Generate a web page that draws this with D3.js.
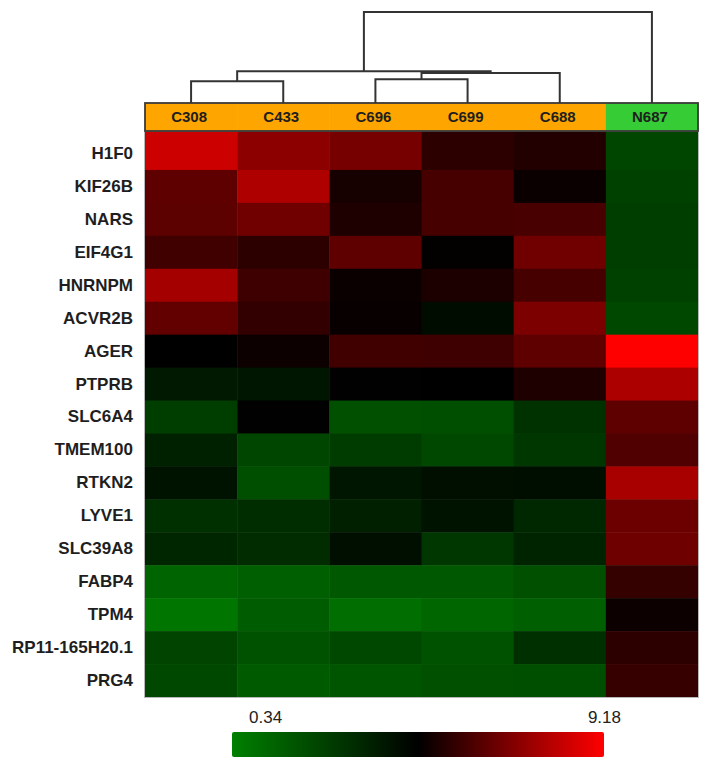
<!DOCTYPE html>
<html>
<head>
<meta charset="utf-8">
<script src="https://cdn.jsdelivr.net/npm/d3@7"></script>
<style>
  html, body { margin: 0; padding: 0; background: #fff; }
  svg { display: block; }
  text { font-family: "Liberation Sans", Arial, sans-serif; }
</style>
</head>
<body>
<div id="chart"></div>
<script>
// ---------------- data ----------------
const samples = ["C308", "C433", "C696", "C699", "C688", "N687"];
const sampleGroups = ["C", "C", "C", "C", "C", "N"];
const genes = ["H1F0", "KIF26B", "NARS", "EIF4G1", "HNRNPM", "ACVR2B", "AGER", "PTPRB",
  "SLC6A4", "TMEM100", "RTKN2", "LYVE1", "SLC39A8", "FABP4", "TPM4", "RP11-165H20.1", "PRG4"];

// expression values per sample (one value per gene, same order as genes)
const valuesC308 = [8.31, 6.41, 6.35, 5.89, 7.62, 6.45, 4.78, 3.90, 2.62, 3.62, 4.14, 3.10, 3.45, 1.31, 0.72, 2.41, 2.27];
const valuesC433 = [7.19, 7.79, 6.70, 5.54, 5.83, 5.63, 4.97, 4.00, 4.74, 2.34, 2.07, 3.21, 3.25, 1.48, 1.58, 1.93, 1.65];
const valuesC696 = [6.80, 5.14, 5.28, 6.41, 4.93, 4.90, 5.89, 4.74, 2.00, 2.69, 4.00, 3.66, 4.24, 1.72, 0.96, 2.27, 1.83];
const valuesC699 = [5.54, 5.97, 5.97, 4.81, 5.25, 4.35, 5.83, 4.76, 2.07, 2.27, 4.24, 4.14, 2.86, 1.72, 1.24, 1.93, 2.00];
const valuesC688 = [5.37, 4.93, 6.01, 6.70, 5.97, 6.93, 6.41, 5.28, 3.03, 2.86, 4.28, 3.38, 3.55, 2.00, 1.48, 3.10, 2.07];
const valuesN687 = [2.34, 2.52, 2.62, 2.62, 2.52, 2.27, 9.18, 7.74, 6.41, 6.15, 7.67, 6.63, 6.67, 5.66, 4.97, 5.54, 5.71];

// hierarchical clustering of samples: [left, right, merge distance]
const linkage = [
  ["C308", "C433", 0.24],
  ["C696", "C699", 0.26],
  ["L1", "C688", 0.33],
  ["L0", "L2", 0.35],
  ["L3", "N687", 1.0]
];

const legendMin = 0.34;
const legendMax = 9.18;
const legendLabels = ["0.34", "9.18"];

// ---------------- layout ----------------
const W = 711, H = 769;
const heat = { left: 145, right: 698, top: 137, bottom: 697 };
const header = { top: 103, bottom: 131 };
const dendroTop = 12;
const cbar = { left: 232, right: 604, top: 732, bottom: 757 };

const svg = d3.select("#chart").append("svg")
  .attr("width", W).attr("height", H);

const x = d3.scaleBand().domain(samples).range([heat.left, heat.right]).padding(0);
const y = d3.scaleBand().domain(genes).range([heat.top, heat.bottom]).padding(0);
const mid = (legendMin + legendMax) / 2;
const color = d3.scaleLinear()
  .domain([legendMin, mid, legendMax])
  .range(["#008000", "#000000", "#ff0000"])
  .interpolate(d3.interpolateRgb)
  .clamp(true);

const seriesBySample = {
  C308: valuesC308, C433: valuesC433, C696: valuesC696,
  C699: valuesC699, C688: valuesC688, N687: valuesN687
};
const cells = [];
samples.forEach(s => {
  genes.forEach((g, i) => cells.push({ sample: s, gene: g, value: seriesBySample[s][i] }));
});

// ---------------- heatmap ----------------
svg.append("g").selectAll("rect")
  .data(cells)
  .join("rect")
  .attr("x", d => x(d.sample))
  .attr("y", d => (y(d.gene) === heat.top ? header.bottom : y(d.gene)))
  .attr("width", x.bandwidth() + 0.5)
  .attr("height", d => (y(d.gene) === heat.top ? heat.top - header.bottom : 0) + y.bandwidth() + 0.5)
  .attr("fill", d => color(d.value));

// faint frame around heatmap body
svg.append("rect")
  .attr("x", heat.left - 0.5).attr("y", header.bottom)
  .attr("width", heat.right - heat.left + 1).attr("height", heat.bottom - header.bottom + 0.5)
  .attr("fill", "none").attr("stroke", "#b8b8b8").attr("stroke-width", 1);

// row labels
svg.append("g").selectAll("text")
  .data(genes)
  .join("text")
  .attr("x", heat.left - 12)
  .attr("y", d => y(d) + y.bandwidth() / 2 + 1)
  .attr("text-anchor", "end")
  .attr("dominant-baseline", "middle")
  .attr("font-size", 17)
  .attr("font-weight", "bold")
  .attr("fill", "#1e1e1e")
  .text(d => d);

// ---------------- header ----------------
const groupColor = { C: "#ffa500", N: "#35cc35" };
svg.append("g").selectAll("rect")
  .data(samples)
  .join("rect")
  .attr("x", d => x(d))
  .attr("y", header.top)
  .attr("width", x.bandwidth() + 0.5)
  .attr("height", header.bottom - header.top)
  .attr("fill", (d, i) => groupColor[sampleGroups[i]]);
svg.append("rect")
  .attr("x", heat.left).attr("y", header.top)
  .attr("width", heat.right - heat.left).attr("height", header.bottom - header.top)
  .attr("fill", "none").attr("stroke", "#3a3a3a").attr("stroke-width", 1.8);
svg.append("g").selectAll("text")
  .data(samples)
  .join("text")
  .attr("x", d => x(d) + x.bandwidth() / 2 - 2)
  .attr("y", (header.top + header.bottom) / 2 + 1)
  .attr("text-anchor", "middle")
  .attr("dominant-baseline", "middle")
  .attr("font-size", 15)
  .attr("font-weight", "bold")
  .attr("fill", "#1e1e1e")
  .text(d => d);

// ---------------- dendrogram ----------------
const dy = d3.scaleLinear().domain([0, 1]).range([header.top, dendroTop]);
const nodes = {};
samples.forEach(s => { nodes[s] = { x: x(s) + x.bandwidth() / 2, h: 0 }; });
const dendro = svg.append("g").attr("fill", "none").attr("stroke", "#333").attr("stroke-width", 2);
linkage.forEach((m, i) => {
  const a = nodes[m[0]], b = nodes[m[1]];
  const p = d3.path();
  p.moveTo(a.x, dy(a.h));
  p.lineTo(a.x, dy(m[2]));
  p.lineTo(b.x, dy(m[2]));
  p.lineTo(b.x, dy(b.h));
  dendro.append("path").attr("d", p.toString());
  nodes["L" + i] = { x: (a.x + b.x) / 2, h: m[2] };
});

// ---------------- colour legend ----------------
const defs = svg.append("defs");
const grad = defs.append("linearGradient").attr("id", "cbar")
  .attr("x1", "0%").attr("x2", "100%").attr("y1", "0%").attr("y2", "0%");
d3.range(0, 1.0001, 0.1).forEach(t => {
  grad.append("stop").attr("offset", (t * 100) + "%")
    .attr("stop-color", color(legendMin + t * (legendMax - legendMin)));
});
svg.append("rect")
  .attr("x", cbar.left).attr("y", cbar.top)
  .attr("width", cbar.right - cbar.left).attr("height", cbar.bottom - cbar.top)
  .attr("rx", 2).attr("fill", "url(#cbar)");
svg.append("text")
  .attr("x", cbar.left + 17).attr("y", cbar.top - 9)
  .attr("font-size", 17).attr("fill", "#222")
  .text(legendLabels[0]);
svg.append("text")
  .attr("x", cbar.right + 17).attr("y", cbar.top - 9)
  .attr("text-anchor", "end")
  .attr("font-size", 17).attr("fill", "#222")
  .text(legendLabels[1]);
</script>
</body>
</html>
